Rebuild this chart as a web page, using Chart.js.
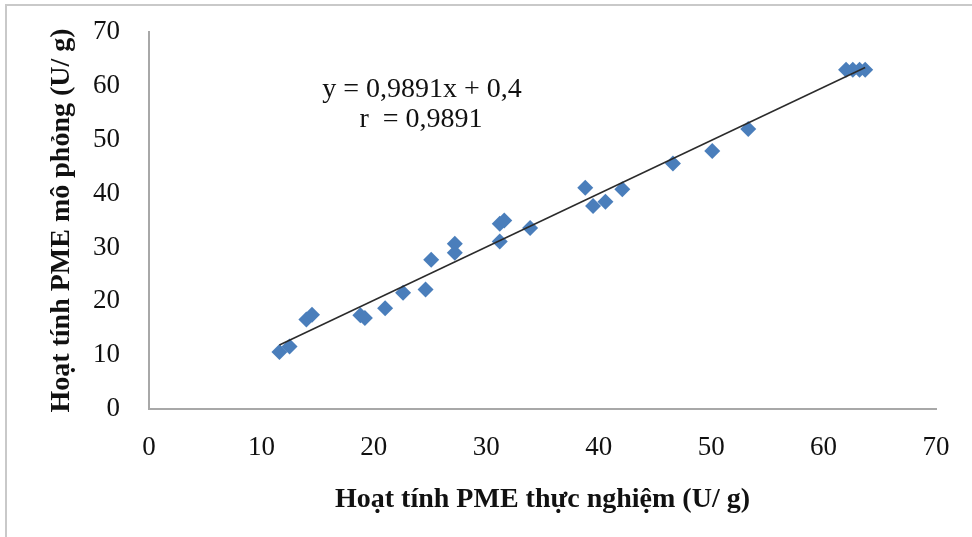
<!DOCTYPE html>
<html>
<head>
<meta charset="utf-8">
<script src="https://cdn.jsdelivr.net/npm/chart.js@4.4.1/dist/chart.umd.min.js"></script>
<style>
    html, body { margin: 0; padding: 0; background: #fff; }
    #wrap { position: relative; width: 972px; height: 537px; }
    #frame { position: absolute; left: 5px; top: 4px; right: 0; bottom: 0;
             border-top: 2px solid #c9c9c9; border-left: 2px solid #c9c9c9; pointer-events: none; }
</style>
</head>
<body>
<div id="wrap">
    <canvas id="scatter-chart" width="972" height="537"></canvas>
    <div id="frame"></div>
</div>
<script>
// measured (thực nghiệm) vs simulated (mô phỏng) PME activity, U/g
let measured = [11.6, 12.5, 14.0, 14.5, 18.8, 19.2, 21.0, 22.6, 24.6, 25.1, 27.2, 27.2, 31.2, 31.2,
    31.6, 33.9, 38.8, 39.5, 40.6, 42.1, 46.6, 50.1, 53.3, 62.0, 62.6, 63.2, 63.7];
let simulated = [10.6, 11.6, 16.6, 17.5, 17.4, 16.9, 18.7, 21.6, 22.2, 27.7, 29.0, 30.7, 31.1, 34.4,
    35.0, 33.6, 41.1, 37.7, 38.5, 40.8, 45.6, 47.9, 52.0, 63.0, 63.0, 63.0, 63.0];
let axisTicks = [0, 10, 20, 30, 40, 50, 60, 70];
let slope = 0.9891;
let intercept = 0.4;
let equationLines = ["y = 0,9891x + 0,4", "r  = 0,9891"];

const points = measured.map((x, i) => ({ x: x, y: simulated[i] }));
const xMin = Math.min(...measured);
const xMax = Math.max(...measured);
const trend = [
    { x: xMin, y: slope * xMin + intercept },
    { x: xMax, y: slope * xMax + intercept }
];

const serif = "'Liberation Serif', 'Times New Roman', serif";

const equationText = {
    id: 'equationText',
    afterDraw(chart) {
        const ctx = chart.ctx;
        ctx.save();
        ctx.font = "28px " + serif;
        ctx.fillStyle = "#111";
        ctx.textAlign = "center";
        ctx.textBaseline = "middle";
        ctx.fillText(equationLines[0], 422, 90);
        ctx.fillText(equationLines[1], 421, 120);
        ctx.restore();
    }
};

let ctx = document.getElementById('scatter-chart').getContext('2d');
let chart = new Chart(ctx, {
    type: 'scatter',
    data: {
        datasets: [{
            label: 'PME',
            data: points,
            pointStyle: 'rectRot',
            pointRadius: 8,
            pointHoverRadius: 8,
            backgroundColor: '#4a7ebb',
            borderColor: '#4a7ebb',
            borderWidth: 0,
            order: 2
        }, {
            type: 'line',
            label: 'trend',
            data: trend,
            borderColor: '#2b2b2b',
            borderWidth: 1.5,
            pointRadius: 0,
            fill: false,
            order: 1
        }]
    },
    options: {
        responsive: false,
        animation: false,
        layout: { padding: { left: 45, top: 32, right: 36, bottom: 20 } },
        plugins: {
            legend: { display: false },
            tooltip: { enabled: false }
        },
        scales: {
            x: {
                type: 'linear',
                min: 0,
                max: 70,
                afterBuildTicks: axis => { axis.ticks = axisTicks.map(v => ({ value: v })); },
                afterFit: axis => { axis.height = 108; axis.paddingLeft = 0; axis.paddingRight = 0; },
                grid: { display: false, drawTicks: false },
                border: { display: true, color: '#a8a8a8', width: 2 },
                ticks: { padding: 23, color: '#111', font: { family: serif, size: 27 } },
                title: {
                    display: true,
                    text: 'Hoạt tính PME thực nghiệm (U/ g)',
                    color: '#111',
                    padding: 0,
                    font: { family: serif, size: 28, weight: 'bold' }
                }
            },
            y: {
                type: 'linear',
                min: 0,
                max: 70,
                afterBuildTicks: axis => { axis.ticks = axisTicks.map(v => ({ value: v })); },
                afterFit: axis => { axis.width = 149 - 45; axis.paddingTop = 0; axis.paddingBottom = 0; },
                grid: { display: false, drawTicks: false },
                border: { display: true, color: '#a8a8a8', width: 2 },
                ticks: { padding: 29, color: '#111', font: { family: serif, size: 27 } },
                title: {
                    display: true,
                    text: 'Hoạt tính PME mô phỏng (U/ g)',
                    color: '#111',
                    padding: 0,
                    font: { family: serif, size: 28, weight: 'bold' }
                }
            }
        }
    },
    plugins: [equationText]
});
</script>
</body>
</html>
